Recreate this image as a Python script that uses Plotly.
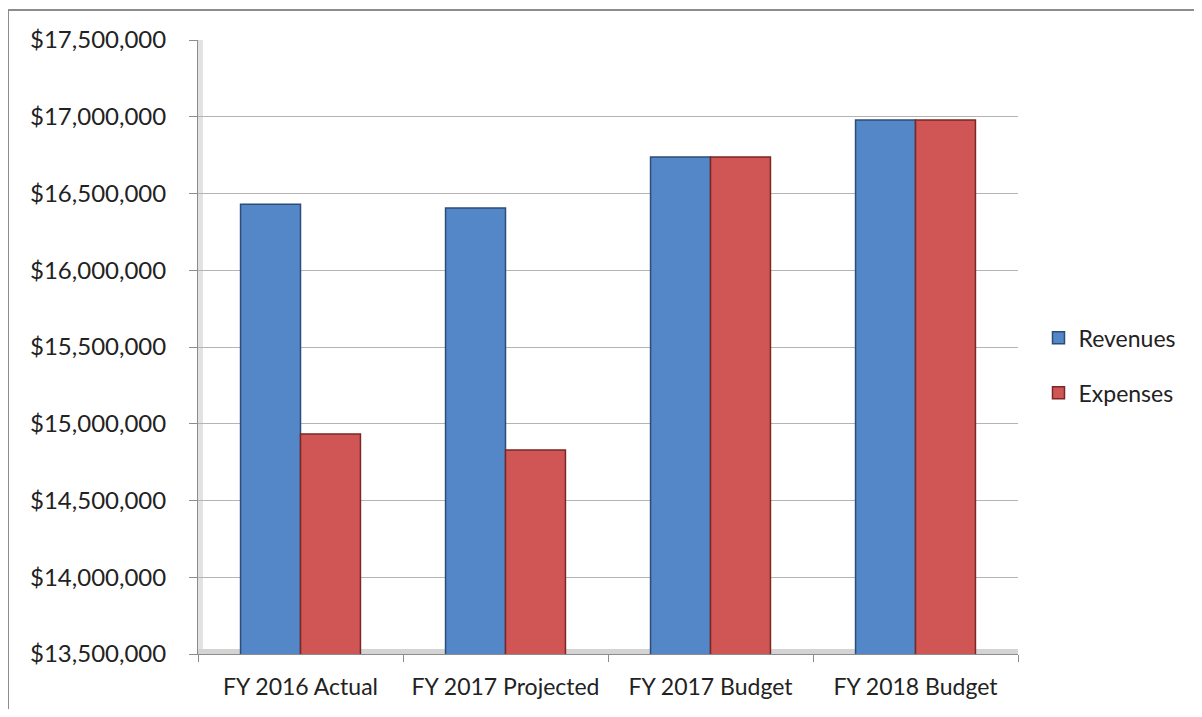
import plotly.graph_objects as go

categories = ["FY 2016 Actual", "FY 2017 Projected", "FY 2017 Budget", "FY 2018 Budget"]
revenues = [16430000, 16405000, 16738000, 16979000]
expenses = [14933000, 14829000, 16738000, 16979000]
y_ticks = [13500000 + 500000 * i for i in range(9)]
y_tick_labels = [f"${v:,.0f}" for v in y_ticks]

FONT = "Lato, 'Open Sans', sans-serif"

fig = go.Figure()

fig.add_trace(
    go.Bar(
        x=categories,
        y=revenues,
        name="Revenues",
        legendgroup="rev",
        marker=dict(color="#5487C8", line=dict(color="#2B4D78", width=1.5)),
    )
)
fig.add_trace(
    go.Bar(
        x=categories,
        y=expenses,
        name="Expenses",
        legendgroup="exp",
        marker=dict(color="#CF5654", line=dict(color="#7A2725", width=1.5)),
    )
)

# chart border + light 3D wall / floor hints
fig.add_shape(
    type="rect", xref="paper", yref="paper",
    x0=-0.2317, x1=1.25, y0=-0.2, y1=1.0489,
    line=dict(color="#8C8C8C", width=2), layer="below",
)
fig.add_shape(
    type="rect", xref="paper", yref="paper",
    x0=0, x1=0.006, y0=0, y1=1,
    fillcolor="#E2E2E2", line_width=0, layer="below",
)
fig.add_shape(
    type="rect", xref="paper", yref="paper",
    x0=0, x1=1, y0=0, y1=0.008,
    fillcolor="#D4D4D4", line_width=0, layer="below",
)

fig.update_layout(
    width=1186,
    height=701,
    barmode="group",
    bargap=0.415,
    bargroupgap=0,
    plot_bgcolor="white",
    paper_bgcolor="white",
    margin=dict(l=190, r=176, t=32, b=55),
    font=dict(family=FONT, size=24, color="#222222"),
    showlegend=True,
    legend=dict(
        x=1.025, y=0.47, xanchor="left", yanchor="middle",
        font=dict(size=23), tracegroupgap=22, itemwidth=30,
        traceorder="grouped",
    ),
    xaxis=dict(
        type="category",
        showline=True,
        linecolor="#8C8C8C",
        linewidth=1,
        ticks="outside",
        tickson="boundaries",
        ticklen=7,
        tickcolor="#8C8C8C",
        showgrid=False,
        ticklabelstandoff=12,
        tickangle=0,
        automargin=False,
        tickfont=dict(size=23),
    ),
    yaxis=dict(
        range=[13500000, 17500000],
        tickvals=y_ticks,
        ticktext=y_tick_labels,
        showline=True,
        linecolor="#8C8C8C",
        linewidth=1,
        ticks="outside",
        ticklen=8,
        tickcolor="#8C8C8C",
        showgrid=True,
        gridcolor="#B4B4B4",
        gridwidth=1,
        zeroline=False,
        ticklabelstandoff=18,
        automargin=False,
    ),
)

fig.write_html("out.html")
